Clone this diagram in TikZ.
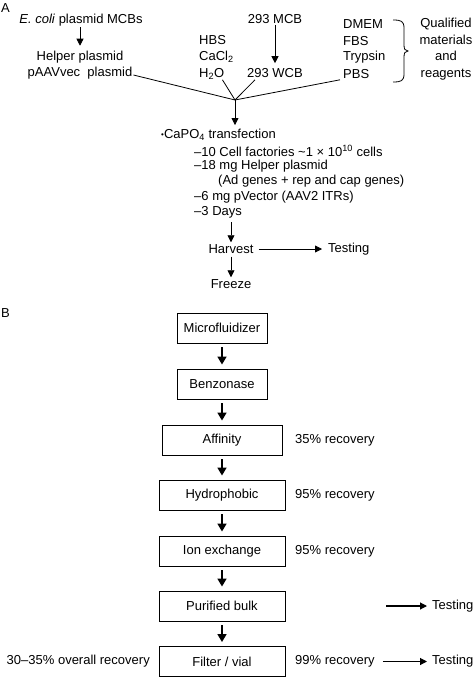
\documentclass[tikz,border=0pt]{standalone}
\usepackage{fontspec}
\setmainfont{Liberation Sans}
\usetikzlibrary{arrows.meta}
\begin{document}
\begin{tikzpicture}[x=1pt,y=-1pt,
  every node/.style={font=\fontsize{13}{16.5}\selectfont, inner sep=0pt},
  thinarrow/.style={-{Triangle[length=7pt,width=7pt]}, line width=0.8pt},
  thickarrow/.style={-{Triangle[length=8pt,width=9pt]}, line width=1.6pt},
  testarrow/.style={-{Triangle[length=7pt,width=7pt]}, line width=1.1pt},
  feed/.style={line width=0.8pt},
  stage/.style={draw, line width=0.9pt, minimum height=30pt, inner sep=0pt}]
\useasboundingbox (0,0) rectangle (474,677);

% ---------------- Part A ----------------
\node[anchor=west] (lblA) at (1,8) {A};
\node (ecoli) at (81,20) {\textit{E. coli} plasmid MCBs};
\node (helper) at (80,57) {Helper plasmid};
\node (paav) at (80,73) {pAAVvec\ \ plasmid};
\draw[thinarrow, shorten <=1pt, shorten >=5pt] (ecoli.south -| helper.north) -- (helper.north);

\node[anchor=west] (hbs) at (199,40) {HBS};
\node[anchor=west] (cacl) at (199,57) {CaCl\textsubscript{2}};
\node[anchor=west] (h2o) at (199,74) {H\textsubscript{2}O};

\node (mcb) at (275,19) {293 MCB};
\node (wcb) at (275,73) {293 WCB};
\draw[thinarrow, shorten <=1pt, shorten >=5pt] (mcb.south) -- (wcb.north);

\node[anchor=west] (dmem) at (343,24) {DMEM};
\node[anchor=west] (fbs) at (343,41) {FBS};
\node[anchor=west] (tryp) at (343,57) {Trypsin};
\node[anchor=west] (pbs) at (343,74) {PBS};
\draw[line width=0.8pt] (393,20) .. controls (401,20) and (404,21) .. (404,28)
  -- (404,45) .. controls (404,49) and (405,51) .. (408,51)
  .. controls (405,51) and (404,53) .. (404,57)
  -- (404,74) .. controls (404,81) and (401,82) .. (393,82);
\node[align=center] (qual) at (446,49) {Qualified\\materials\\and\\reagents};

\coordinate (m) at (235,100);
\draw[feed] ([xshift=1pt,yshift=-2pt]paav.east) -- (m);
\draw[feed] ([xshift=-2pt]h2o.south east) -- (m);
\draw[feed] ([xshift=-20pt,yshift=-2pt]wcb.south) -- (m);
\draw[feed] ([xshift=-3pt,yshift=-1pt]pbs.south west) -- (m);

\node[anchor=west] (capo) at (161,135) {{\fontsize{8}{8}\selectfont\raisebox{1.5pt}{•}}CaPO\textsubscript{4} transfection};
\node[anchor=west] (cells) at (194,151) {–10 Cell factories \textasciitilde 1 × 10\textsuperscript{10} cells};
\node[anchor=west] (hp) at (194,166) {–18 mg Helper plasmid};
\node[anchor=west] (ad) at (218,181) {(Ad genes + rep and cap genes)};
\node[anchor=west] (pvec) at (194,197) {–6 mg pVector (AAV2 ITRs)};
\node[anchor=west] (days) at (194,212) {–3 Days};
\draw[thinarrow, shorten >=4pt] (m) -- (capo.north -| m);

\node (harvest) at (231,249) {Harvest};
\node[anchor=west] (testA) at (328,249) {Testing};
\node (freeze) at (231,284) {Freeze};
\draw[thinarrow, shorten <=4pt, shorten >=2pt] (days.south -| harvest.north) -- (harvest.north);
\draw[thinarrow, shorten <=5pt, shorten >=6pt] (harvest.east) -- (testA.west);
\draw[thinarrow, shorten <=3pt, shorten >=2pt] (harvest.south) -- (freeze.north);

% ---------------- Part B ----------------
\node[anchor=west] (lblB) at (1,313) {B};
\node[stage, minimum width=90pt] (micro) at (222,328) {Microfluidizer};
\node[stage, minimum width=90pt] (benz) at (222,384) {Benzonase};
\node[stage, minimum width=120pt] (aff) at (222,440) {Affinity};
\node[stage, minimum width=126pt] (hyd) at (222,495) {Hydrophobic};
\node[stage, minimum width=126pt] (ion) at (222,551) {Ion exchange};
\node[stage, minimum width=126pt] (pur) at (222,606) {Purified bulk};
\node[stage, minimum width=126pt] (fil) at (222,661.5) {Filter / vial};

\foreach \a/\b in {micro/benz, benz/aff, aff/hyd, hyd/ion, ion/pur, pur/fil}
  \draw[thickarrow, shorten <=4pt, shorten >=4pt] (\a) -- (\b);

\node[anchor=west] (r35) at (295,440) {35\% recovery};
\node[anchor=west] (r95a) at (295,495) {95\% recovery};
\node[anchor=west] (r95b) at (295,551) {95\% recovery};
\node[anchor=west] (r99) at (295,661.5) {99\% recovery};
\node[anchor=east] (overall) at (150,661.5) {30–35\% overall recovery};

\node[anchor=west] (testB1) at (432,606) {Testing};
\node[anchor=west] (testB2) at (432,661.5) {Testing};
\coordinate (pstart) at (386,606);
\draw[testarrow, shorten >=5pt] (pstart) -- (testB1.west);
\draw[testarrow, shorten <=8pt, shorten >=5pt] (r99.east) -- (testB2.west);
\end{tikzpicture}
\end{document}
